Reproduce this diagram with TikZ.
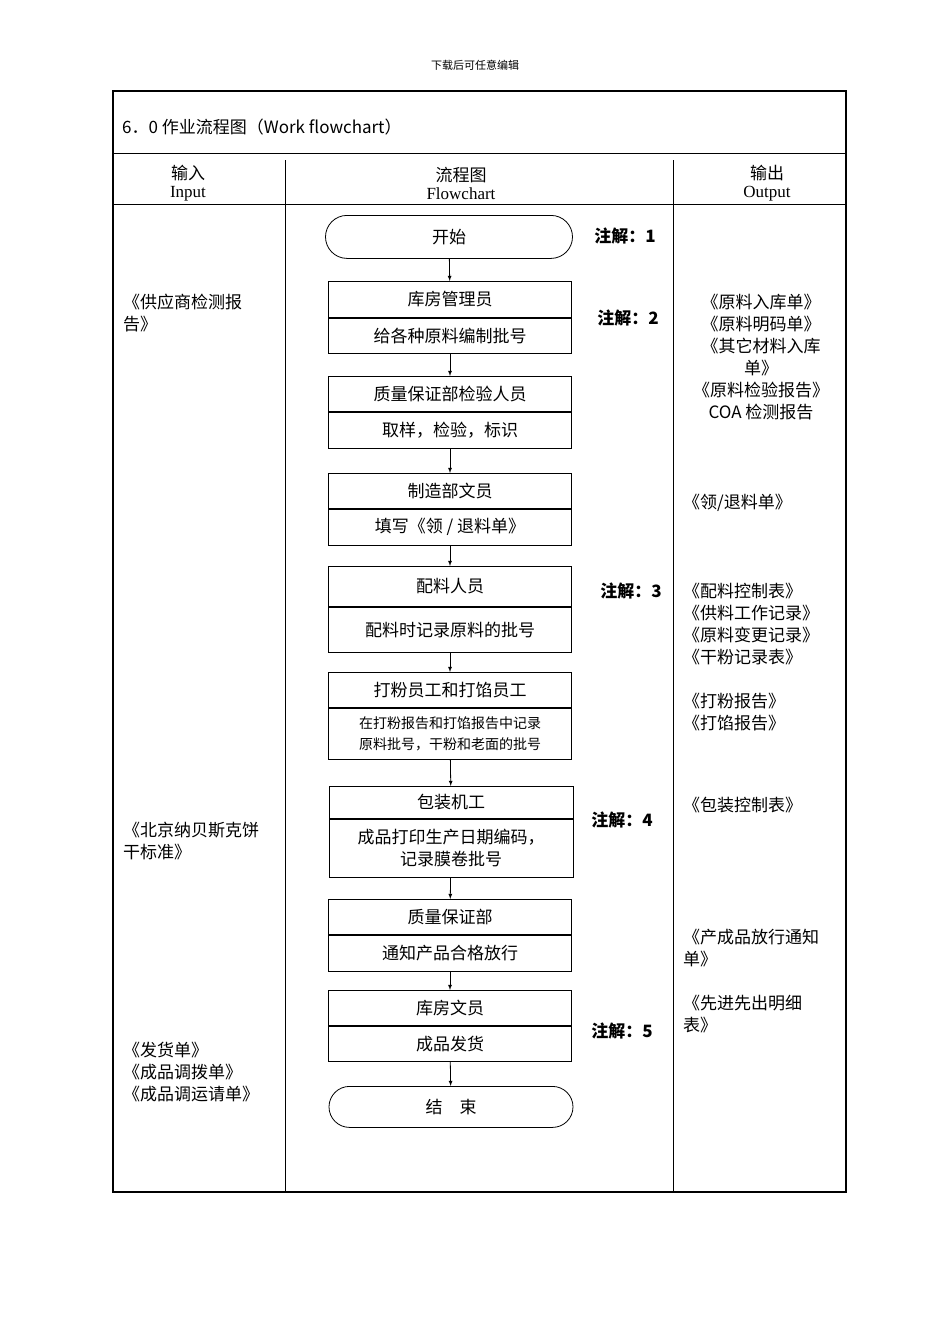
\documentclass[tikz,border=0pt]{standalone}
\usepackage{fontspec}
\setmainfont{Liberation Serif}
\newfontfamily\cjk{Noto Sans CJK SC}
\usetikzlibrary{arrows,positioning,shapes}
\tikzset{
  txt/.style={font=\cjk\fontsize{17}{22}\selectfont,inner sep=0pt,align=center},
  part/.style={draw,line width=0.8pt,minimum width=243pt,inner sep=0pt,anchor=north,font=\cjk\fontsize{17}{22}\selectfont,align=center},
  term/.style={part,rounded rectangle},
  note/.style={font=\cjk\bfseries\fontsize{17}{22}\selectfont,inner sep=0pt},
  side/.style={font=\cjk\fontsize{17}{22}\selectfont,inner sep=0pt,align=left,anchor=north west},
  flow/.style={-latex,line width=0.8pt}
}
\begin{document}
\begin{tikzpicture}[x=1pt,y=-1pt]
        \useasboundingbox (0,0) rectangle (950,1344);
        \node[font=\cjk\fontsize{11}{13}\selectfont] (hdr) at (475,65) {下载后可任意编辑};
        % table frame
        \draw[line width=2pt] (113,91) rectangle (846,1192);
        \draw[line width=0.8pt] (113,153) -- (846,153);
        \draw[line width=0.8pt] (113,204) -- (846,204);
        \draw[line width=0.8pt] (285,160) -- (285,1192);
        \draw[line width=0.8pt] (673,160) -- (673,1192);
        \node[txt,anchor=west] (title) at (122,127) {6．0 作业流程图（Work flowchart）};
        \node[txt] (hin) at (188,183) {输入\\[-4pt]\rmfamily Input};
        \node[txt] (hfc) at (461,183) {流程图\\[-4pt]\rmfamily Flowchart};
        \node[txt] (hout) at (767,183) {输出\\[-4pt]\rmfamily Output};
        % flowchart
        \node[term,minimum width=247pt,minimum height=43pt] (start) at (449,215) {开始};
        \node[part,minimum height=36pt] (b1t) at (450,281) {库房管理员};
        \node[part,minimum height=35pt,below=0pt of b1t] (b1b) {给各种原料编制批号};
        \node[part,minimum height=35pt] (b2t) at (450,376) {质量保证部检验人员};
        \node[part,minimum height=36pt,below=0pt of b2t] (b2b) {取样，检验，标识};
        \node[part,minimum height=35pt] (b3t) at (450,473) {制造部文员};
        \node[part,minimum height=36pt,below=0pt of b3t] (b3b) {填写《领 / 退料单》};
        \node[part,minimum height=40pt] (b4t) at (450,566) {配料人员};
        \node[part,minimum height=45pt,below=0pt of b4t] (b4b) {配料时记录原料的批号};
        \node[part,minimum height=35pt] (b5t) at (450,672) {打粉员工和打馅员工};
        \node[part,minimum height=51pt,below=0pt of b5t,font=\cjk\fontsize{14}{21}\selectfont] (b5b) {在打粉报告和打馅报告中记录\\原料批号，干粉和老面的批号};
        \node[part,minimum width=244pt,minimum height=32pt] (b6t) at (451,786) {包装机工};
        \node[part,minimum width=244pt,minimum height=58pt,below=0pt of b6t] (b6b) {成品打印生产日期编码，\\记录膜卷批号};
        \node[part,minimum height=35pt] (b7t) at (450,899) {质量保证部};
        \node[part,minimum height=36pt,below=0pt of b7t] (b7b) {通知产品合格放行};
        \node[part,minimum height=35pt] (b8t) at (450,990) {库房文员};
        \node[part,minimum height=35pt,below=0pt of b8t] (b8b) {成品发货};
        \node[term,minimum width=244pt,minimum height=41pt] (stop) at (451,1086) {结\quad 束};
        \draw[flow] (start) -- (b1t);
        \draw[flow] (b1b) -- (b2t);
        \draw[flow] (b2b) -- (b3t);
        \draw[flow] (b3b) -- (b4t);
        \draw[flow] (b4b) -- (b5t);
        \draw[flow] (b5b) -- (b6t);
        \draw[flow] (b6b) -- (b7t);
        \draw[flow] (b7b) -- (b8t);
        \draw[flow] (b8b) -- (stop);
        % notes
        \node[note] (n1) at (625,236) {注解：1};
        \node[note] (n2) at (628,318) {注解：2};
        \node[note] (n3) at (631,591) {注解：3};
        \node[note] (n4) at (622,820) {注解：4};
        \node[note] (n5) at (622,1031) {注解：5};
        % input column
        \node[side] (in1) at (123,294) {《供应商检测报\\告》};
        \node[side] (in2) at (123,822) {《北京纳贝斯克饼\\干标准》};
        \node[side] (in3) at (123,1042) {《发货单》\\《成品调拨单》\\《成品调运请单》};
        % output column
        \node[side,anchor=north,align=center] (out1) at (761,294) {《原料入库单》\\《原料明码单》\\《其它材料入库\\单》\\《原料检验报告》\\COA 检测报告};
        \node[side] (out2) at (683,494) {《领/退料单》};
        \node[side] (out3) at (683,583) {《配料控制表》\\《供料工作记录》\\《原料变更记录》\\《干粉记录表》};
        \node[side] (out4) at (683,693) {《打粉报告》\\《打馅报告》};
        \node[side] (out5) at (683,797) {《包装控制表》};
        \node[side] (out6) at (683,929) {《产成品放行通知\\单》};
        \node[side] (out7) at (683,995) {《先进先出明细\\表》};
\end{tikzpicture}
\end{document}
